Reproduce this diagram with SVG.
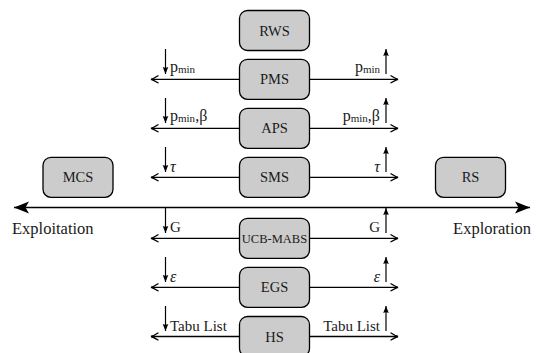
<svg xmlns="http://www.w3.org/2000/svg" width="536" height="353" viewBox="0 0 536 353">
<style>
text{font-family:"Liberation Serif","DejaVu Serif",serif;fill:#1a1a1a}
.node rect{fill:#cccccc;stroke:#000;stroke-width:1.3}
.nl{font-size:14.5px;text-anchor:middle}
.lbl{font-size:15px}
.ax-l{font-size:16.5px}
.p{font-size:16px}
.sub{font-size:11px}
.r{text-anchor:end}
.h{stroke:#000;stroke-width:1.3;fill:none}
.s{stroke:#000;stroke-width:1.2;fill:none}
.ax{stroke:#000;stroke-width:1.6;fill:none}
</style>
<defs>
<marker id="ah" markerUnits="userSpaceOnUse" viewBox="-9 -5 10 10" refX="0" refY="0" markerWidth="10" markerHeight="10" orient="auto-start-reverse">
<path d="M-7,-3.5 Q-2.5,-0.6 0,0 Q-2.5,0.6 -7,3.5" stroke="#000" stroke-width="1.3" fill="none" stroke-linecap="round"/>
</marker>
<marker id="sa" markerUnits="userSpaceOnUse" viewBox="-8 -4 9 8" refX="0" refY="0" markerWidth="9" markerHeight="8" orient="auto">
<path d="M-7,-2.8 L0,0 L-7,2.8 Q-5.5,0 -7,-2.8Z" fill="#000"/>
</marker>
<marker id="big" markerUnits="userSpaceOnUse" viewBox="-16 -7 17 14" refX="0" refY="0" markerWidth="17" markerHeight="14" orient="auto-start-reverse">
<path d="M-15,-6 L0,0 L-15,6 L-11.5,0Z" fill="#000"/>
</marker>
</defs>
<g id="connectors">
<line class="ax" x1="14" y1="207.5" x2="530" y2="207.5" marker-start="url(#big)" marker-end="url(#big)"/>
<line class="h" x1="151" y1="79.3" x2="398" y2="79.3" marker-start="url(#ah)" marker-end="url(#ah)"/>
<line class="h" x1="151" y1="128.3" x2="398" y2="128.3" marker-start="url(#ah)" marker-end="url(#ah)"/>
<line class="h" x1="151" y1="177.3" x2="398" y2="177.3" marker-start="url(#ah)" marker-end="url(#ah)"/>
<line class="h" x1="151" y1="238.3" x2="398" y2="238.3" marker-start="url(#ah)" marker-end="url(#ah)"/>
<line class="h" x1="151" y1="287.3" x2="398" y2="287.3" marker-start="url(#ah)" marker-end="url(#ah)"/>
<line class="h" x1="151" y1="336.5" x2="398" y2="336.5" marker-start="url(#ah)" marker-end="url(#ah)"/>
<g id="small-arrows">
<line class="s" x1="165.5" y1="49" x2="165.5" y2="74" marker-end="url(#sa)"/>
<line class="s" x1="386" y1="74" x2="386" y2="49" marker-end="url(#sa)"/>
<line class="s" x1="165.5" y1="98" x2="165.5" y2="123" marker-end="url(#sa)"/>
<line class="s" x1="386" y1="123" x2="386" y2="98" marker-end="url(#sa)"/>
<line class="s" x1="165.5" y1="147" x2="165.5" y2="172" marker-end="url(#sa)"/>
<line class="s" x1="386" y1="172" x2="386" y2="147" marker-end="url(#sa)"/>
<line class="s" x1="165.5" y1="208" x2="165.5" y2="233" marker-end="url(#sa)"/>
<line class="s" x1="386" y1="233" x2="386" y2="208" marker-end="url(#sa)"/>
<line class="s" x1="165.5" y1="257" x2="165.5" y2="282" marker-end="url(#sa)"/>
<line class="s" x1="386" y1="282" x2="386" y2="257" marker-end="url(#sa)"/>
<line class="s" x1="165.5" y1="306" x2="165.5" y2="331" marker-end="url(#sa)"/>
<line class="s" x1="386" y1="331" x2="386" y2="306" marker-end="url(#sa)"/>
</g>
<g id="arrow-labels">
<text class="p" x="170" y="72">p<tspan class="sub" dy="1">min</tspan></text>
<text class="p r" x="380" y="72">p<tspan class="sub" dy="1">min</tspan></text>
<text class="p" x="170" y="121">p<tspan class="sub" dy="1">min</tspan><tspan dy="-1">,β</tspan></text>
<text class="p r" x="380" y="121">p<tspan class="sub" dy="1">min</tspan><tspan dy="-1">,β</tspan></text>
<text class="p" x="170" y="171.5" font-style="italic">τ</text>
<text class="p r" x="380" y="171.5" font-style="italic">τ</text>
<text class="lbl" x="170" y="232">G</text>
<text class="lbl r" x="380" y="232">G</text>
<text class="p" x="170" y="281.5" font-style="italic">ε</text>
<text class="p r" x="380" y="281.5" font-style="italic">ε</text>
<text class="lbl" x="170" y="330.5">Tabu List</text>
<text class="lbl r" x="380" y="330.5">Tabu List</text>
</g>
</g>
<g id="axis-labels">
<text class="ax-l" x="12" y="233.5">Exploitation</text>
<text class="ax-l r" x="531" y="233.5">Exploration</text>
</g>
<g id="RWS" class="node"><rect x="239.5" y="10.5" width="70" height="40" rx="8"/><text class="nl" x="274.5" y="35.5">RWS</text></g>
<g id="PMS" class="node"><rect x="239.5" y="59.3" width="70" height="40" rx="8"/><text class="nl" x="274.5" y="84.3">PMS</text></g>
<g id="APS" class="node"><rect x="239.5" y="108.3" width="70" height="40" rx="8"/><text class="nl" x="274.5" y="133.3">APS</text></g>
<g id="SMS" class="node"><rect x="239.5" y="157.3" width="70" height="40" rx="8"/><text class="nl" x="274.5" y="182.3">SMS</text></g>
<g id="UCB-MABS" class="node"><rect x="239.5" y="218.3" width="70" height="40" rx="8"/><text class="nl" x="274.5" y="242.8" style="font-size:12.5px">UCB-MABS</text></g>
<g id="EGS" class="node"><rect x="239.5" y="267.3" width="70" height="40" rx="8"/><text class="nl" x="274.5" y="292.3">EGS</text></g>
<g id="HS" class="node"><rect x="239.5" y="316.5" width="70" height="40" rx="8"/><text class="nl" x="274.5" y="341.5">HS</text></g>
<g id="MCS" class="node"><rect x="43" y="157.3" width="70" height="40" rx="8"/><text class="nl" x="78" y="182.3">MCS</text></g>
<g id="RS" class="node"><rect x="435.5" y="157.3" width="70" height="40" rx="8"/><text class="nl" x="470.5" y="182.3">RS</text></g>
</svg>
